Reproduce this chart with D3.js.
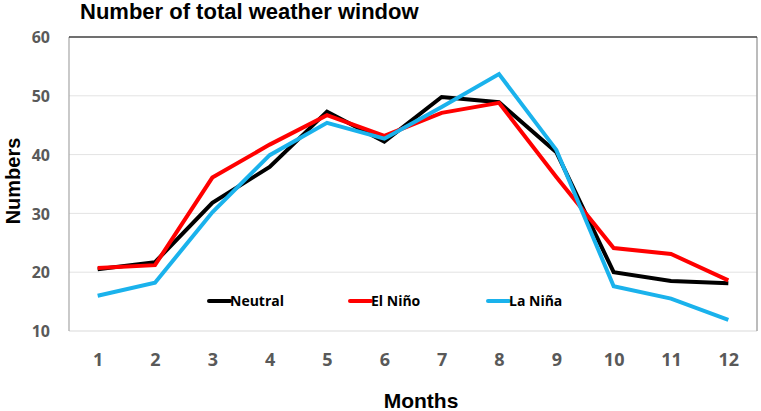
<!DOCTYPE html>
<html><head><meta charset="utf-8">
<script src="https://cdn.jsdelivr.net/npm/d3@7"></script>
<style>body{margin:0;background:#fff}svg{display:block}</style>
</head><body>
<svg id="c" width="761" height="411"></svg>
<script>
const months = ["1","2","3","4","5","6","7","8","9","10","11","12"];
const neutral = [20.5, 21.7, 31.8, 37.9, 47.3, 42.2, 49.8, 48.9, 40.4, 20.0, 18.5, 18.1];
const elNino  = [20.7, 21.2, 36.1, 41.7, 46.7, 43.2, 47.1, 48.8, 36.2, 24.1, 23.1, 18.6];
const laNina  = [16.0, 18.2, 30.2, 39.9, 45.4, 42.7, 48.1, 53.7, 40.8, 17.6, 15.5, 11.9];
const yTicks = [10, 20, 30, 40, 50, 60];
const seriesNames = ["Neutral", "El Niño", "La Niña"];
const colors = ["#000000", "#ff0000", "#1ab2ec"];

const svg = d3.select("#c");
const L = 69, R = 757, T = 37, B = 331;
const x = d3.scalePoint().domain(months).range([L, R]).padding(0.5);
const y = d3.scaleLinear().domain([10, 60]).range([B, T]);

// gridlines
svg.append("g").selectAll("line").data(yTicks.filter(d => d > 10 && d < 60)).join("line")
  .attr("x1", L).attr("x2", R).attr("y1", d => y(d)).attr("y2", d => y(d))
  .attr("stroke", "#e3e3e3").attr("stroke-width", 1);

// borders
svg.append("line").attr("x1", L).attr("x2", R).attr("y1", B).attr("y2", B).attr("stroke", "#d9d9d9");
svg.append("line").attr("x1", L).attr("x2", L).attr("y1", T).attr("y2", B).attr("stroke", "#a6a6a6").attr("stroke-width", 1.2);
svg.append("line").attr("x1", R).attr("x2", R).attr("y1", T).attr("y2", B).attr("stroke", "#a6a6a6").attr("stroke-width", 1.5);
svg.append("line").attr("x1", L).attr("x2", R).attr("y1", T).attr("y2", T).attr("stroke", "#404040").attr("stroke-width", 1.5);

// y axis labels
const yAxis = d3.axisLeft(y).tickValues(yTicks).tickSize(0).tickPadding(0);
const gy = svg.append("g").attr("transform", `translate(${L - 19},0)`).call(yAxis);
gy.select(".domain").remove();
gy.selectAll("text").attr("font-family", "'Open Sans', sans-serif").attr("font-weight", "bold")
  .attr("font-size", 16).attr("fill", "#595959").attr("dy", "0.35em");

// x axis labels
const xAxis = d3.axisBottom(x).tickSize(0).tickPadding(0);
const gx = svg.append("g").attr("transform", `translate(0,${B + 22})`).call(xAxis);
gx.select(".domain").remove();
gx.selectAll("text").attr("font-family", "'Open Sans', sans-serif").attr("font-weight", "bold")
  .attr("font-size", 18).attr("fill", "#595959").attr("dy", "0.71em");

// lines
const line = d3.line().x((d, i) => x(months[i])).y(d => y(d));
[neutral, elNino, laNina].forEach((s, k) => {
  svg.append("path").datum(s).attr("d", line).attr("fill", "none")
    .attr("stroke", colors[k]).attr("stroke-width", 4).attr("stroke-linejoin", "miter");
});

// legend
const legX = [209, 350, 488];
seriesNames.forEach((n, k) => {
  svg.append("line").attr("x1", legX[k]).attr("x2", legX[k] + 21).attr("y1", 301).attr("y2", 301)
    .attr("stroke", colors[k]).attr("stroke-width", 4).attr("stroke-linecap", "round");
  svg.append("text").attr("x", legX[k] + 21).attr("y", 306).text(n)
    .attr("font-family", "'Open Sans', sans-serif").attr("font-weight", "bold").attr("font-size", 14).attr("fill", "#000");
});

// title
svg.append("text").attr("x", 80).attr("y", 19).text("Number of total weather window")
  .attr("font-family", "'Liberation Sans', Arial, sans-serif").attr("font-weight", "bold").attr("font-size", 22);

// axis titles
svg.append("text").attr("transform", "translate(20,181) rotate(-90)").attr("text-anchor", "middle")
  .text("Numbers").attr("font-family", "'Liberation Sans', Arial, sans-serif").attr("font-weight", "bold").attr("font-size", 20);
svg.append("text").attr("x", 421).attr("y", 408).attr("text-anchor", "middle")
  .text("Months").attr("font-family", "'Liberation Sans', Arial, sans-serif").attr("font-weight", "bold").attr("font-size", 21);
</script>
</body></html>
